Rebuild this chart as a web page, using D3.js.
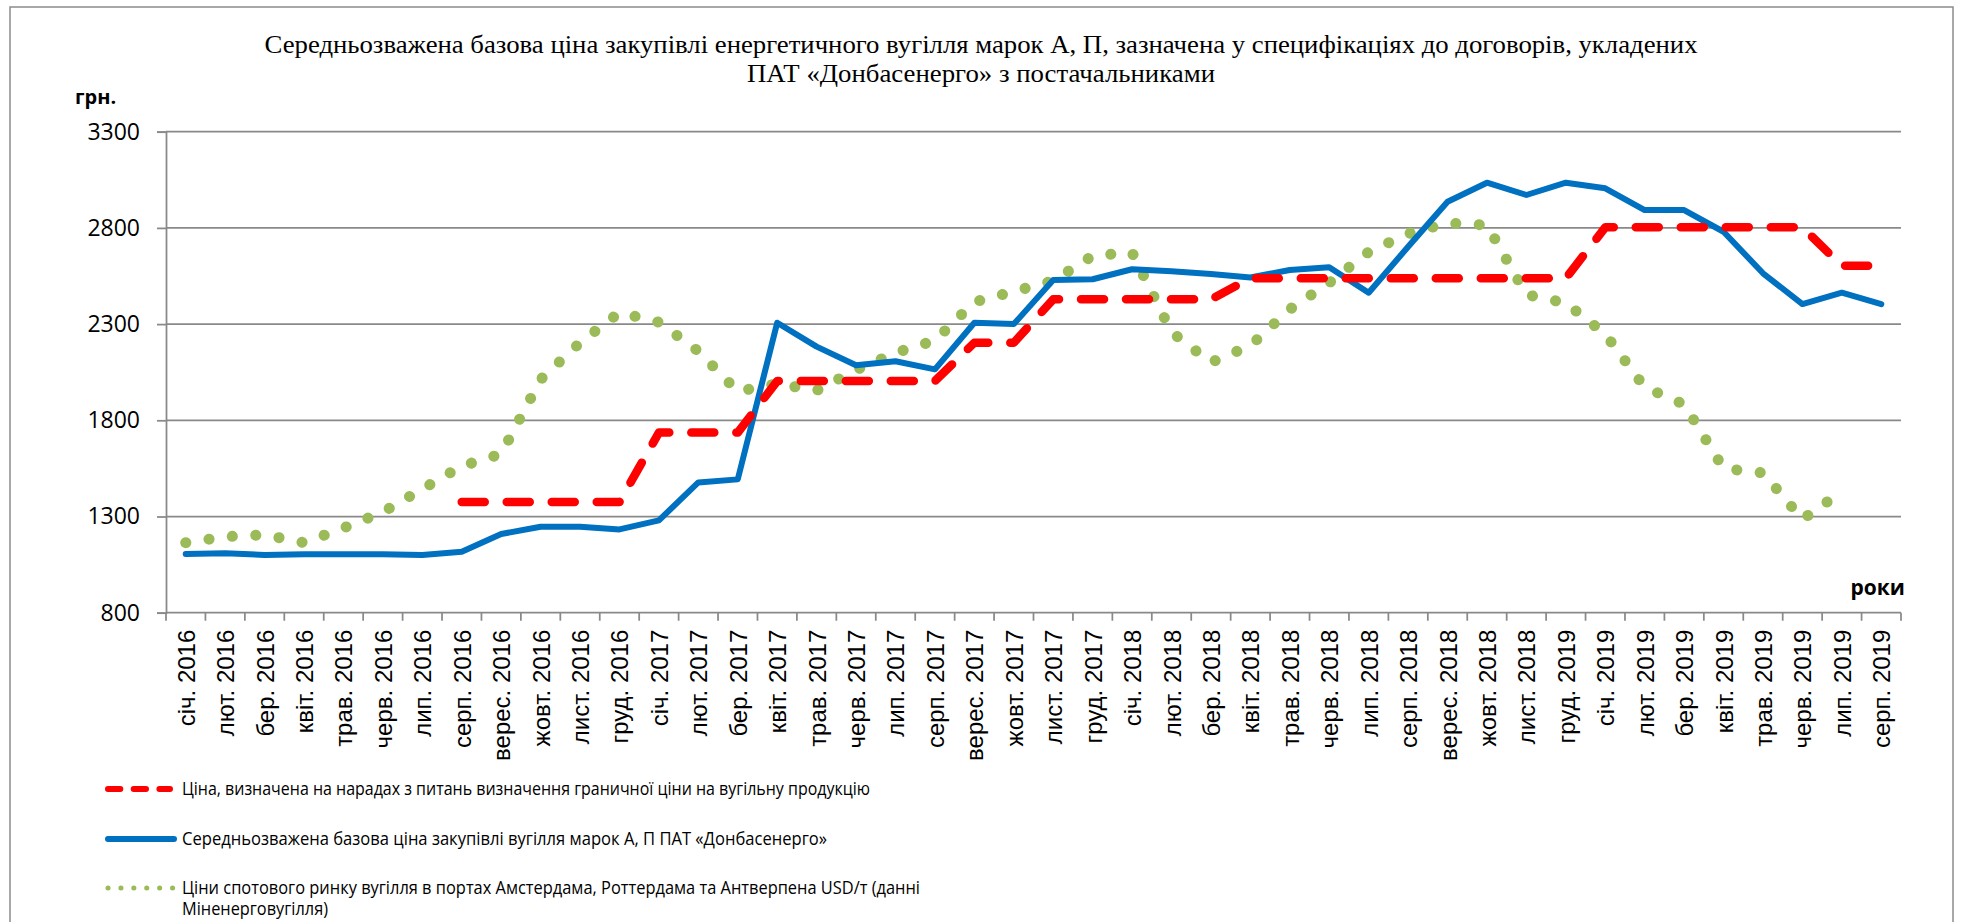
<!DOCTYPE html>
<html>
<head>
<meta charset="utf-8">
<script src="https://cdn.jsdelivr.net/npm/d3@7"></script>
<style>
  html, body { margin: 0; padding: 0; background: #fff; }
  svg { display: block; }
</style>
</head>
<body>
<script>
// категорії (місяці) - підписи як в оригіналі, включно з "груд. 2019"
var months = [
  "січ. 2016", "лют. 2016", "бер. 2016", "квіт. 2016", "трав. 2016", "черв. 2016",
  "лип. 2016", "серп. 2016", "верес. 2016", "жовт. 2016", "лист. 2016", "груд. 2016",
  "січ. 2017", "лют. 2017", "бер. 2017", "квіт. 2017", "трав. 2017", "черв. 2017",
  "лип. 2017", "серп. 2017", "верес. 2017", "жовт. 2017", "лист. 2017", "груд. 2017",
  "січ. 2018", "лют. 2018", "бер. 2018", "квіт. 2018", "трав. 2018", "черв. 2018",
  "лип. 2018", "серп. 2018", "верес. 2018", "жовт. 2018", "лист. 2018", "груд. 2019",
  "січ. 2019", "лют. 2019", "бер. 2019", "квіт. 2019", "трав. 2019", "черв. 2019",
  "лип. 2019", "серп. 2019"
];

// ціна з нарад (червона пунктирна)
var meetingPrice = [
  null, null, null, null, null, null, null,
  1375, 1375, 1375, 1375, 1375,
  1736, 1736, 1736,
  2004, 2004, 2004, 2004, 2004,
  2203, 2203,
  2429, 2429, 2429, 2429, 2429,
  2538, 2538, 2538, 2538, 2538, 2538, 2538, 2538, 2538,
  2803, 2803, 2803, 2803, 2803, 2803,
  2603, 2603
];

// середньозважена ціна Донбасенерго (синя)
var weightedPrice = [
  1105, 1109, 1100, 1104, 1104, 1104, 1100, 1117, 1209, 1247, 1247, 1233,
  1280, 1477, 1493, 2307, 2183, 2086, 2107, 2065, 2307, 2300, 2529, 2533,
  2585, 2575, 2560, 2542, 2581, 2595, 2463, 2702, 2936, 3035, 2971, 3035,
  3006, 2893, 2893, 2780, 2564, 2404, 2463, 2404
];

// спотовий ринок ARA (зелена точкова)
var spotPrice = [
  1164, 1195, 1205, 1164, 1240, 1323, 1443, 1562, 1625, 2012, 2203, 2360,
  2310, 2159, 1950, 1990, 1955, 2062, 2151, 2215, 2415, 2470, 2525, 2655,
  2672, 2258, 2101, 2188, 2377, 2515, 2675, 2770, 2825, 2815, 2453, 2410,
  2248, 1972, 1883, 1550, 1527, 1285, 1430, null
];

var yTicks = [800, 1300, 1800, 2300, 2800, 3300];

var titleLines = [
  "Середньозважена базова ціна закупівлі енергетичного вугілля марок А, П, зазначена у специфікаціях до договорів, укладених",
  "ПАТ «Донбасенерго» з постачальниками"
];

var legendLabels = [
  ["Ціна, визначена на нарадах з питань визначення граничної ціни на вугільну продукцію"],
  ["Середньозважена базова ціна закупівлі вугілля марок А, П ПАТ «Донбасенерго»"],
  ["Ціни спотового ринку вугілля в портах Амстердама, Роттердама та Антверпена USD/т (данні", "Міненерговугілля)"]
];

// ("top" - зайнятий window.top, тому plotTop і т.д.)
var width = 1961,
  height = 922,
  plotLeft = 166,
  plotRight = 1901,
  plotTop = 131.7,
  plotBottom = 612.7,
  gridColor = "#898989";

var svg = d3.select("body").append("svg")
  .attr("width", width)
  .attr("height", height);

svg.append("rect")
  .attr("width", width).attr("height", height)
  .attr("fill", "#fff");

// рамка діаграми
svg.append("rect")
  .attr("x", 10).attr("y", 7)
  .attr("width", 1943).attr("height", 1000)
  .attr("fill", "none")
  .attr("stroke", "#8c8c8c")
  .attr("stroke-width", 1.5);

var x = d3.scaleBand()
  .domain(d3.range(months.length))
  .range([plotLeft, plotRight])
  .paddingInner(0).paddingOuter(0);

var y = d3.scaleLinear()
  .domain([800, 3300])
  .range([plotBottom, plotTop]);

var cx = function (i) { return x(i) + x.bandwidth() / 2; };

// заголовок
svg.selectAll("text.title")
  .data(titleLines)
  .enter().append("text")
  .attr("class", "title")
  .attr("x", 981)
  .attr("y", function (d, i) { return 53 + i * 29; })
  .attr("text-anchor", "middle")
  .attr("font-family", "'Liberation Serif', 'Times New Roman', serif")
  .attr("font-size", 26)
  .attr("textLength", function (d, i) { return i === 0 ? 1433 : 468; })
  .attr("lengthAdjust", "spacingAndGlyphs")
  .text(function (d) { return d; });

// горизонтальна сітка
svg.append("g")
  .selectAll("line")
  .data(yTicks.slice(1))
  .enter().append("line")
  .attr("x1", plotLeft).attr("x2", plotRight)
  .attr("y1", function (d) { return y(d); })
  .attr("y2", function (d) { return y(d); })
  .attr("stroke", gridColor)
  .attr("stroke-width", 1.75);

// вісь Y
var yAxis = svg.append("g")
  .attr("transform", "translate(" + plotLeft + ",0)")
  .call(d3.axisLeft(y).tickValues(yTicks).tickSize(9).tickPadding(17).tickFormat(d3.format("d")));
yAxis.select(".domain").attr("stroke", gridColor).attr("stroke-width", 1.75);
yAxis.selectAll(".tick line").attr("stroke", gridColor).attr("stroke-width", 1.75);
yAxis.selectAll(".tick text")
  .attr("font-family", "'Open Sans', sans-serif")
  .attr("font-size", 23)
  .attr("fill", "#000");

// вісь X: лінія + штрихи на межах категорій
svg.append("line")
  .attr("x1", plotLeft).attr("x2", plotRight)
  .attr("y1", plotBottom).attr("y2", plotBottom)
  .attr("stroke", gridColor).attr("stroke-width", 1.75);

svg.append("g")
  .selectAll("line")
  .data(d3.range(months.length + 1))
  .enter().append("line")
  .attr("x1", function (i) { return plotLeft + i * x.step(); })
  .attr("x2", function (i) { return plotLeft + i * x.step(); })
  .attr("y1", plotBottom).attr("y2", plotBottom + 8)
  .attr("stroke", gridColor).attr("stroke-width", 1.75);

svg.append("g")
  .selectAll("text")
  .data(months)
  .enter().append("text")
  .attr("transform", function (d, i) { return "translate(" + (cx(i) + 9) + "," + (plotBottom + 17) + ")rotate(-90)"; })
  .attr("text-anchor", "end")
  .attr("font-family", "'Liberation Sans', Arial, sans-serif")
  .attr("font-size", 24)
  .text(function (d) { return d; });

// підписи осей
svg.append("text")
  .attr("x", 75).attr("y", 104)
  .attr("font-family", "'Open Sans', sans-serif")
  .attr("font-weight", "bold")
  .attr("font-size", 20)
  .text("грн.");

svg.append("text")
  .attr("x", 1905).attr("y", 595)
  .attr("text-anchor", "end")
  .attr("font-family", "'Open Sans', sans-serif")
  .attr("font-weight", "bold")
  .attr("font-size", 21)
  .text("роки");

var line = d3.line()
  .defined(function (d) { return d != null; })
  .x(function (d, i) { return cx(i); })
  .y(function (d) { return y(d); });

// серії
var series = [
  {values: spotPrice, color: "#9bbb59", width: 11, dash: "0.1,23.4"},
  {values: weightedPrice, color: "#0070c0", width: 6, dash: null},
  {values: meetingPrice, color: "#ff0000", width: 8.5, dash: "23,22"}
];

series.forEach(function (s) {
  svg.append("path")
    .attr("d", line(s.values))
    .attr("fill", "none")
    .attr("stroke", s.color)
    .attr("stroke-width", s.width)
    .attr("stroke-linecap", "round")
    .attr("stroke-linejoin", "round")
    .attr("stroke-dasharray", s.dash);
});

// легенда (довгий підпис - один text з двома tspan)
var legendItems = [
  {color: "#ff0000", width: 6, dash: "12.3,13.4", x2: 170, y: 789, lines: legendLabels[0], lens: [688]},
  {color: "#0070c0", width: 6, dash: null, x2: 174, y: 839, lines: legendLabels[1], lens: [645]},
  {color: "#9bbb59", width: 5, dash: "0.1,12.8", x2: 173, y: 888, lines: legendLabels[2], lens: [738, 146]}
];

var legend = svg.append("g");
legendItems.forEach(function (d) {
  legend.append("line")
    .attr("x1", 108).attr("x2", d.x2)
    .attr("y1", d.y).attr("y2", d.y)
    .attr("stroke", d.color)
    .attr("stroke-width", d.width)
    .attr("stroke-linecap", "round")
    .attr("stroke-dasharray", d.dash);
  var txt = legend.append("text")
    .attr("font-family", "'Open Sans', sans-serif")
    .attr("font-size", 19);
  d.lines.forEach(function (t, j) {
    txt.append("tspan")
      .attr("x", 182)
      .attr("y", d.y + 6 + j * 21)
      .attr("textLength", d.lens[j])
      .attr("lengthAdjust", "spacingAndGlyphs")
      .text(t);
  });
});
</script>
</body>
</html>
